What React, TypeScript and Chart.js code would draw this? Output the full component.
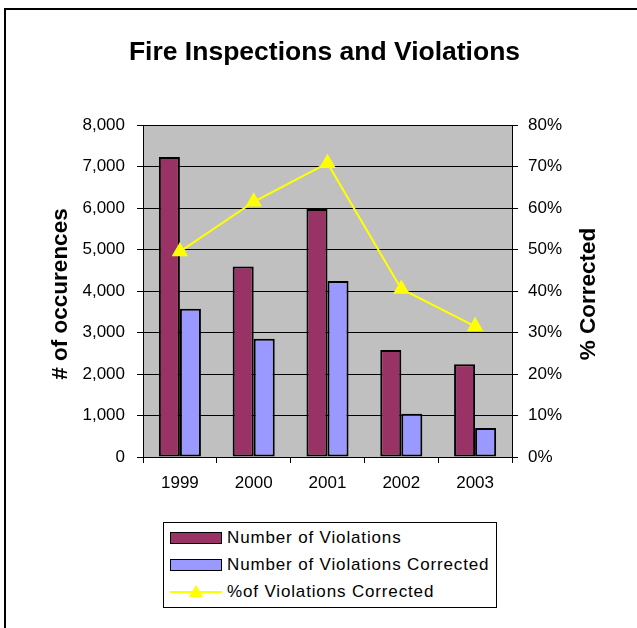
import React, { useEffect, useRef } from 'react';
import { Chart, registerables } from 'chart.js';

Chart.register(...registerables);

const years = ['1999', '2000', '2001', '2002', '2003'];
const violations = [7230, 4590, 5975, 2580, 2235];
const corrected = [3575, 2850, 4240, 1040, 700];
const pctCorrected = [49.5, 61.5, 70.8, 40.5, 31.5];

const chartTitle = 'Fire Inspections and Violations';
const leftTitle = '# of occurences';
const rightTitle = '% Corrected';
const seriesNames = ['Number of Violations', 'Number of Violations Corrected', '%of Violations Corrected'];

const FONT = '"Liberation Sans", Arial, Helvetica, sans-serif';
const C_VIOL = '#993366';
const C_CORR = '#9999FF';
const C_PCT = '#FFFF00';

const plotDecor = {
  id: 'plotDecor',
  beforeDraw(chart: any) {
    const { ctx, chartArea: a } = chart;
    ctx.save();
    ctx.fillStyle = '#C0C0C0';
    ctx.fillRect(a.left, a.top, a.right - a.left, a.bottom - a.top);
    ctx.restore();
  },
  afterDraw(chart: any) {
    const { ctx, chartArea: a } = chart;
    const cy = (a.top + a.bottom) / 2 + 3;
    const drawTitle = (text: string, x: number) => {
      ctx.save();
      ctx.font = `bold 22.5px ${FONT}`;
      ctx.fillStyle = '#000';
      ctx.textAlign = 'center';
      ctx.textBaseline = 'middle';
      ctx.translate(x, cy);
      ctx.rotate(-Math.PI / 2);
      ctx.fillText(text, 0, 0);
      ctx.restore();
    };
    drawTitle(leftTitle, a.left - 82);
    drawTitle(rightTitle, a.right + 77);
  },
};

export default function App() {
  const ref = useRef<HTMLCanvasElement | null>(null);

  useEffect(() => {
    if (!ref.current) return;
    Chart.defaults.font.family = FONT;
    Chart.defaults.color = '#000';
    const chart = new Chart(ref.current, {
      type: 'bar',
      data: {
        labels: years,
        datasets: [
          {
            type: 'line',
            label: seriesNames[2],
            data: pctCorrected,
            yAxisID: 'y1',
            borderColor: C_PCT,
            backgroundColor: C_PCT,
            borderWidth: 2,
            pointStyle: 'triangle',
            pointRadius: 7.5,
            pointBackgroundColor: C_PCT,
            pointBorderColor: C_PCT,
            tension: 0,
            order: 0,
          } as any,
          {
            type: 'bar',
            label: seriesNames[0],
            data: violations,
            yAxisID: 'y',
            backgroundColor: C_VIOL,
            borderColor: '#000',
            borderWidth: 2,
            borderSkipped: false,
            categoryPercentage: 0.57,
            barPercentage: 1.0,
            order: 1,
          } as any,
          {
            type: 'bar',
            label: seriesNames[1],
            data: corrected,
            yAxisID: 'y',
            backgroundColor: C_CORR,
            borderColor: '#000',
            borderWidth: 2,
            borderSkipped: false,
            categoryPercentage: 0.57,
            barPercentage: 1.0,
            order: 1,
          } as any,
        ],
      },
      options: {
        animation: false,
        responsive: false,
        maintainAspectRatio: false,
        layout: { padding: { left: 16, right: 4, top: 0, bottom: 13 } },
        plugins: {
          legend: { display: false },
          tooltip: { enabled: false },
          title: {
            display: true,
            text: chartTitle,
            color: '#000',
            font: { size: 26.5, weight: 'bold', family: FONT },
            padding: { top: 37, bottom: 56.2 },
          },
        },
        scales: {
          x: {
            offset: true,
            grid: { offset: true, drawOnChartArea: false, drawTicks: true, tickLength: 6, color: '#000' },
            border: { display: true, color: '#000', width: 1 },
            ticks: { color: '#000', font: { size: 17, family: FONT }, padding: 10, maxRotation: 0 },
            afterFit: (s: any) => { s.height = 40; },
          } as any,
          y: {
            position: 'left',
            min: 0,
            max: 8000,
            grid: { drawOnChartArea: true, drawTicks: true, tickLength: 6, color: '#000', lineWidth: 1 },
            border: { display: true, color: '#000', width: 1 },
            ticks: {
              stepSize: 1000,
              autoSkip: false,
              color: '#000',
              padding: 12,
              font: { size: 17, family: FONT },
              callback: (v: any) => Number(v).toLocaleString('en-US'),
            },
            afterFit: (s: any) => { s.width = 127; },
          } as any,
          y1: {
            position: 'right',
            min: 0,
            max: 80,
            grid: { drawOnChartArea: false, drawTicks: true, tickLength: 6, color: '#000' },
            border: { display: true, color: '#000', width: 1 },
            ticks: {
              stepSize: 10,
              autoSkip: false,
              color: '#000',
              padding: 10,
              font: { size: 17, family: FONT },
              callback: (v: any) => `${v}%`,
            },
            afterFit: (s: any) => { s.width = 121; },
          } as any,
        },
      },
      plugins: [plotDecor],
    });
    return () => chart.destroy();
  }, []);

  const rowStyle: React.CSSProperties = {
    position: 'absolute',
    left: 6,
    height: 20,
    display: 'flex',
    alignItems: 'center',
    whiteSpace: 'nowrap',
  };
  const textStyle: React.CSSProperties = {
    marginLeft: 5,
    fontFamily: FONT,
    fontSize: 17,
    letterSpacing: '0.85px',
    color: '#000',
  };
  const swatch = (c: string): React.CSSProperties => ({
    width: 50,
    height: 10,
    background: c,
    border: '1.5px solid #000',
  });

  return (
    <div style={{ position: 'fixed', left: 0, top: 0, width: 637, height: 628, overflow: 'hidden', background: '#fff' }}>
      <div style={{ position: 'absolute', left: 4, top: 8, width: 760, height: 760, border: '2px solid #000', boxSizing: 'border-box' }} />
      <canvas ref={ref} width={637} height={510} style={{ position: 'absolute', left: 0, top: 0, width: 637, height: 510 }} />
      <div style={{ position: 'absolute', left: 163, top: 522, width: 334, height: 86, border: '1px solid #000', boxSizing: 'border-box', background: '#fff' }}>
        <div style={{ ...rowStyle, top: 5 }}>
          <div style={swatch(C_VIOL)} />
          <span style={textStyle}>{seriesNames[0]}</span>
        </div>
        <div style={{ ...rowStyle, top: 32 }}>
          <div style={swatch(C_CORR)} />
          <span style={textStyle}>{seriesNames[1]}</span>
        </div>
        <div style={{ ...rowStyle, top: 59 }}>
          <div style={{ position: 'relative', width: 52, height: 20 }}>
            <div style={{ position: 'absolute', left: 0, top: 9, width: 52, height: 2, background: C_PCT }} />
            <div style={{ position: 'absolute', left: 19, top: 3, width: 0, height: 0, borderLeft: '7px solid transparent', borderRight: '7px solid transparent', borderBottom: '12px solid ' + C_PCT }} />
          </div>
          <span style={textStyle}>{seriesNames[2]}</span>
        </div>
      </div>
    </div>
  );
}
